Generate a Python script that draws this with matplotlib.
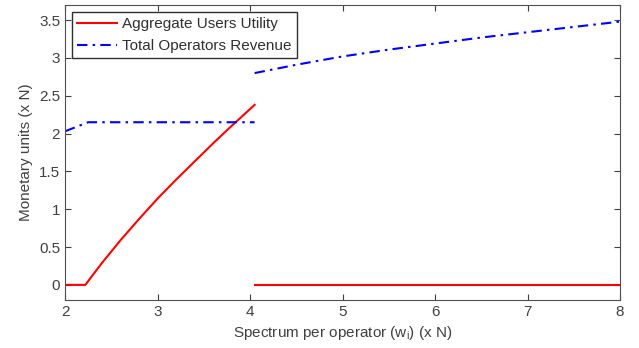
import matplotlib
matplotlib.use("Agg")
import matplotlib.pyplot as plt

plt.rcParams['font.family'] = ['Liberation Sans', 'DejaVu Sans']

# Aggregate Users Utility (two branches)
util_x1 = [2.0, 2.22, 2.3, 2.4, 2.5, 2.6, 2.8, 3.0, 3.2, 3.4, 3.6, 3.8, 4.05]
util_y1 = [0.0, 0.0, 0.13, 0.29, 0.44, 0.59, 0.87, 1.14, 1.39, 1.63, 1.87, 2.1, 2.38]
util_x2 = [4.05, 8.0]
util_y2 = [0.0, 0.0]

# Total Operators Revenue (two branches)
rev_x1 = [2.0, 2.25, 4.05]
rev_y1 = [2.03, 2.15, 2.15]
rev_x2 = [4.05, 4.5, 5.0, 5.5, 6.0, 6.5, 7.0, 7.5, 8.0]
rev_y2 = [2.80, 2.91, 3.02, 3.11, 3.19, 3.27, 3.34, 3.41, 3.48]

fig = plt.figure(figsize=(6.39, 3.48), dpi=100)
ax = fig.add_axes([65/639, 48/348, 555/639, 295/348])

ax.plot(util_x1, util_y1, color='#ff0000', lw=1.5, label='Aggregate Users Utility')
ax.plot(util_x2, util_y2, color='#ff0000', lw=1.5)
ax.plot(rev_x1, rev_y1, color='#0000ff', lw=1.5, dashes=(5, 2.5, 1.2, 2.5),
        label='Total Operators Revenue')
ax.plot(rev_x2, rev_y2, color='#0000ff', lw=1.5, dashes=(5, 2.5, 1.2, 2.5))

ax.set_xlim(2, 8)
ax.set_ylim(-0.2, 3.7)
ax.set_xticks([2, 3, 4, 5, 6, 7, 8])
ax.set_xticklabels(['2', '3', '4', '5', '6', '7', '8'])
ax.set_yticks([0, 0.5, 1, 1.5, 2, 2.5, 3, 3.5])
ax.set_yticklabels(['0', '0.5', '1', '1.5', '2', '2.5', '3', '3.5'])
ax.tick_params(direction='in', top=True, right=True, labelsize=11,
               colors='#404040', length=4)
for s in ax.spines.values():
    s.set_color('#505050')

ax.set_xlabel('Spectrum per operator (w$_\\mathregular{i}$) (x N)', fontsize=11, color='#404040')
ax.set_ylabel('Monetary units (x N)', fontsize=11, color='#404040')

leg = ax.legend(loc='upper left', fontsize=11, fancybox=False, framealpha=1,
                edgecolor='#303030', borderpad=0.35, labelspacing=0.5,
                handlelength=2.6, handletextpad=0.35, borderaxespad=0.45)
for t in leg.get_texts():
    t.set_color('#303030')

fig.savefig('out.png', dpi=100)
